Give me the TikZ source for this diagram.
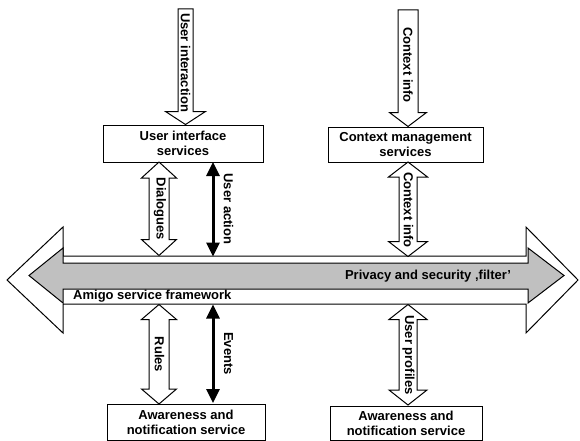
\documentclass[tikz,border=0pt]{standalone}
\usepackage{fontspec}
\setmainfont{Liberation Sans}
\usetikzlibrary{arrows.meta,calc}

% vertical block arrow with heads at both ends: #1 top tip, #2 bottom tip,
% #3 half shaft width, #4 half head width, #5 head length (all in pt)
\newcommand\amVDouble[5]{%
  \draw[blockarrow] let \p1=(#1), \p2=(#2) in
    (\x1,\y1) -- (\x1+#4pt,\y1-#5pt) -- (\x1+#3pt,\y1-#5pt)
    -- (\x1+#3pt,\y2+#5pt) -- (\x1+#4pt,\y2+#5pt) -- (\x2,\y2)
    -- (\x1-#4pt,\y2+#5pt) -- (\x1-#3pt,\y2+#5pt)
    -- (\x1-#3pt,\y1-#5pt) -- (\x1-#4pt,\y1-#5pt) -- cycle;}

% vertical block arrow pointing down: #1 top of shaft, #2 tip
\newcommand\amVDown[5]{%
  \draw[blockarrow] let \p1=(#1), \p2=(#2) in
    (\x1-#3pt,\y1) -- (\x1+#3pt,\y1) -- (\x1+#3pt,\y2+#5pt)
    -- (\x1+#4pt,\y2+#5pt) -- (\x2,\y2) -- (\x1-#4pt,\y2+#5pt)
    -- (\x1-#3pt,\y2+#5pt) -- cycle;}

\begin{document}
\begin{tikzpicture}[x=1pt,y=-1pt,
  font=\fontsize{13}{15}\selectfont\bfseries,
  box/.style={draw, line width=1pt, fill=white, align=center, inner sep=0pt},
  blockarrow/.style={draw, line width=1pt, fill=white, line join=miter},
  grayarrow/.style={draw, line width=1pt, fill=silver, line join=miter},
  vlabel/.style={inner sep=0pt, rotate=-90},
  txt/.style={inner sep=0pt},
  blackarrow/.style={line width=3pt,
    {Triangle[width=13pt,length=14pt]}-{Triangle[width=13pt,length=14pt]}}]
\definecolor{silver}{RGB}{192,192,192}

\useasboundingbox[fill=white] (0,0) rectangle (580,441);

% service boxes
\node[box, minimum width=160, minimum height=37] (uis) at (183,143.5)
  {User interface\\services};
\node[box, minimum width=155, minimum height=35] (cms) at (405.5,144.5)
  {Context management\\services};
\node[box, minimum width=158, minimum height=36] (ansL) at (186,422)
  {Awareness and\\notification service};
\node[box, minimum width=152, minimum height=34] (ansR) at (406,423)
  {Awareness and\\notification service};

% framework: outer white double arrow
\coordinate (fwL) at (7,280);
\coordinate (fwR) at (578,280);
\draw[blockarrow] (fwL) -- (63,227) -- (63,256) -- (526,256) -- (526,227)
  -- (fwR) -- (526,333) -- (526,304) -- (63,304) -- (63,333) -- cycle;

% privacy and security filter: inner grey double arrow
\coordinate (pfL) at (29,275.5);
\coordinate (pfR) at (564,275.5);
\draw[grayarrow] (pfL) -- (63,248) -- (63,263) -- (528,263) -- (528,248)
  -- (pfR) -- (528,303) -- (528,289) -- (63,289) -- (63,303) -- cycle;

\node[txt] (pflabel) at (428,276.5) {Privacy and security ‚filter’};
\node[txt, anchor=west] (fwlabel) at (73,296.5) {Amigo service framework};

% inputs from above
\coordinate (uiTop) at (185.5,9);
\amVDown{uiTop}{uiTop |- uis.north}{7.5}{20}{13}
\node[vlabel] at (185.5,62.5) {User interaction};

\coordinate (ciTop) at (408,10);
\amVDown{ciTop}{ciTop |- cms.north}{10}{18.5}{14}
\node[vlabel] at (408,65) {Context info};

% between upper services and the framework
\coordinate (dlgA) at (159,162);
\coordinate (dlgB) at (159,255.5);
\amVDouble{dlgA}{dlgB}{10}{17.5}{16}
\node[vlabel] at (160,209) {Dialogues};

\coordinate (uaA) at (213,162);
\coordinate (uaB) at (213,256.5);
\draw[blackarrow] (uaA) -- (uaB);
\node[vlabel] at (228.5,209) {User action};

\coordinate (ci2A) at (408,162);
\coordinate (ci2B) at (408,256.5);
\amVDouble{ci2A}{ci2B}{9}{19.5}{15}
\node[vlabel] at (408.5,210) {Context info};

% between the framework and the lower services
\coordinate (ruA) at (159,304.5);
\coordinate (ruB) at (159,404);
\amVDouble{ruA}{ruB}{10}{17.5}{15}
\node[vlabel] at (159.5,354.5) {Rules};

\coordinate (evA) at (213,304.5);
\coordinate (evB) at (213,403);
\draw[blackarrow] (evA) -- (evB);
\node[vlabel] at (228.5,353.5) {Events};

\coordinate (upA) at (408,304.5);
\coordinate (upB) at (408,405);
\amVDouble{upA}{upB}{9}{19}{15}
\node[vlabel] at (408.5,355) {User profiles};
\end{tikzpicture}
\end{document}
